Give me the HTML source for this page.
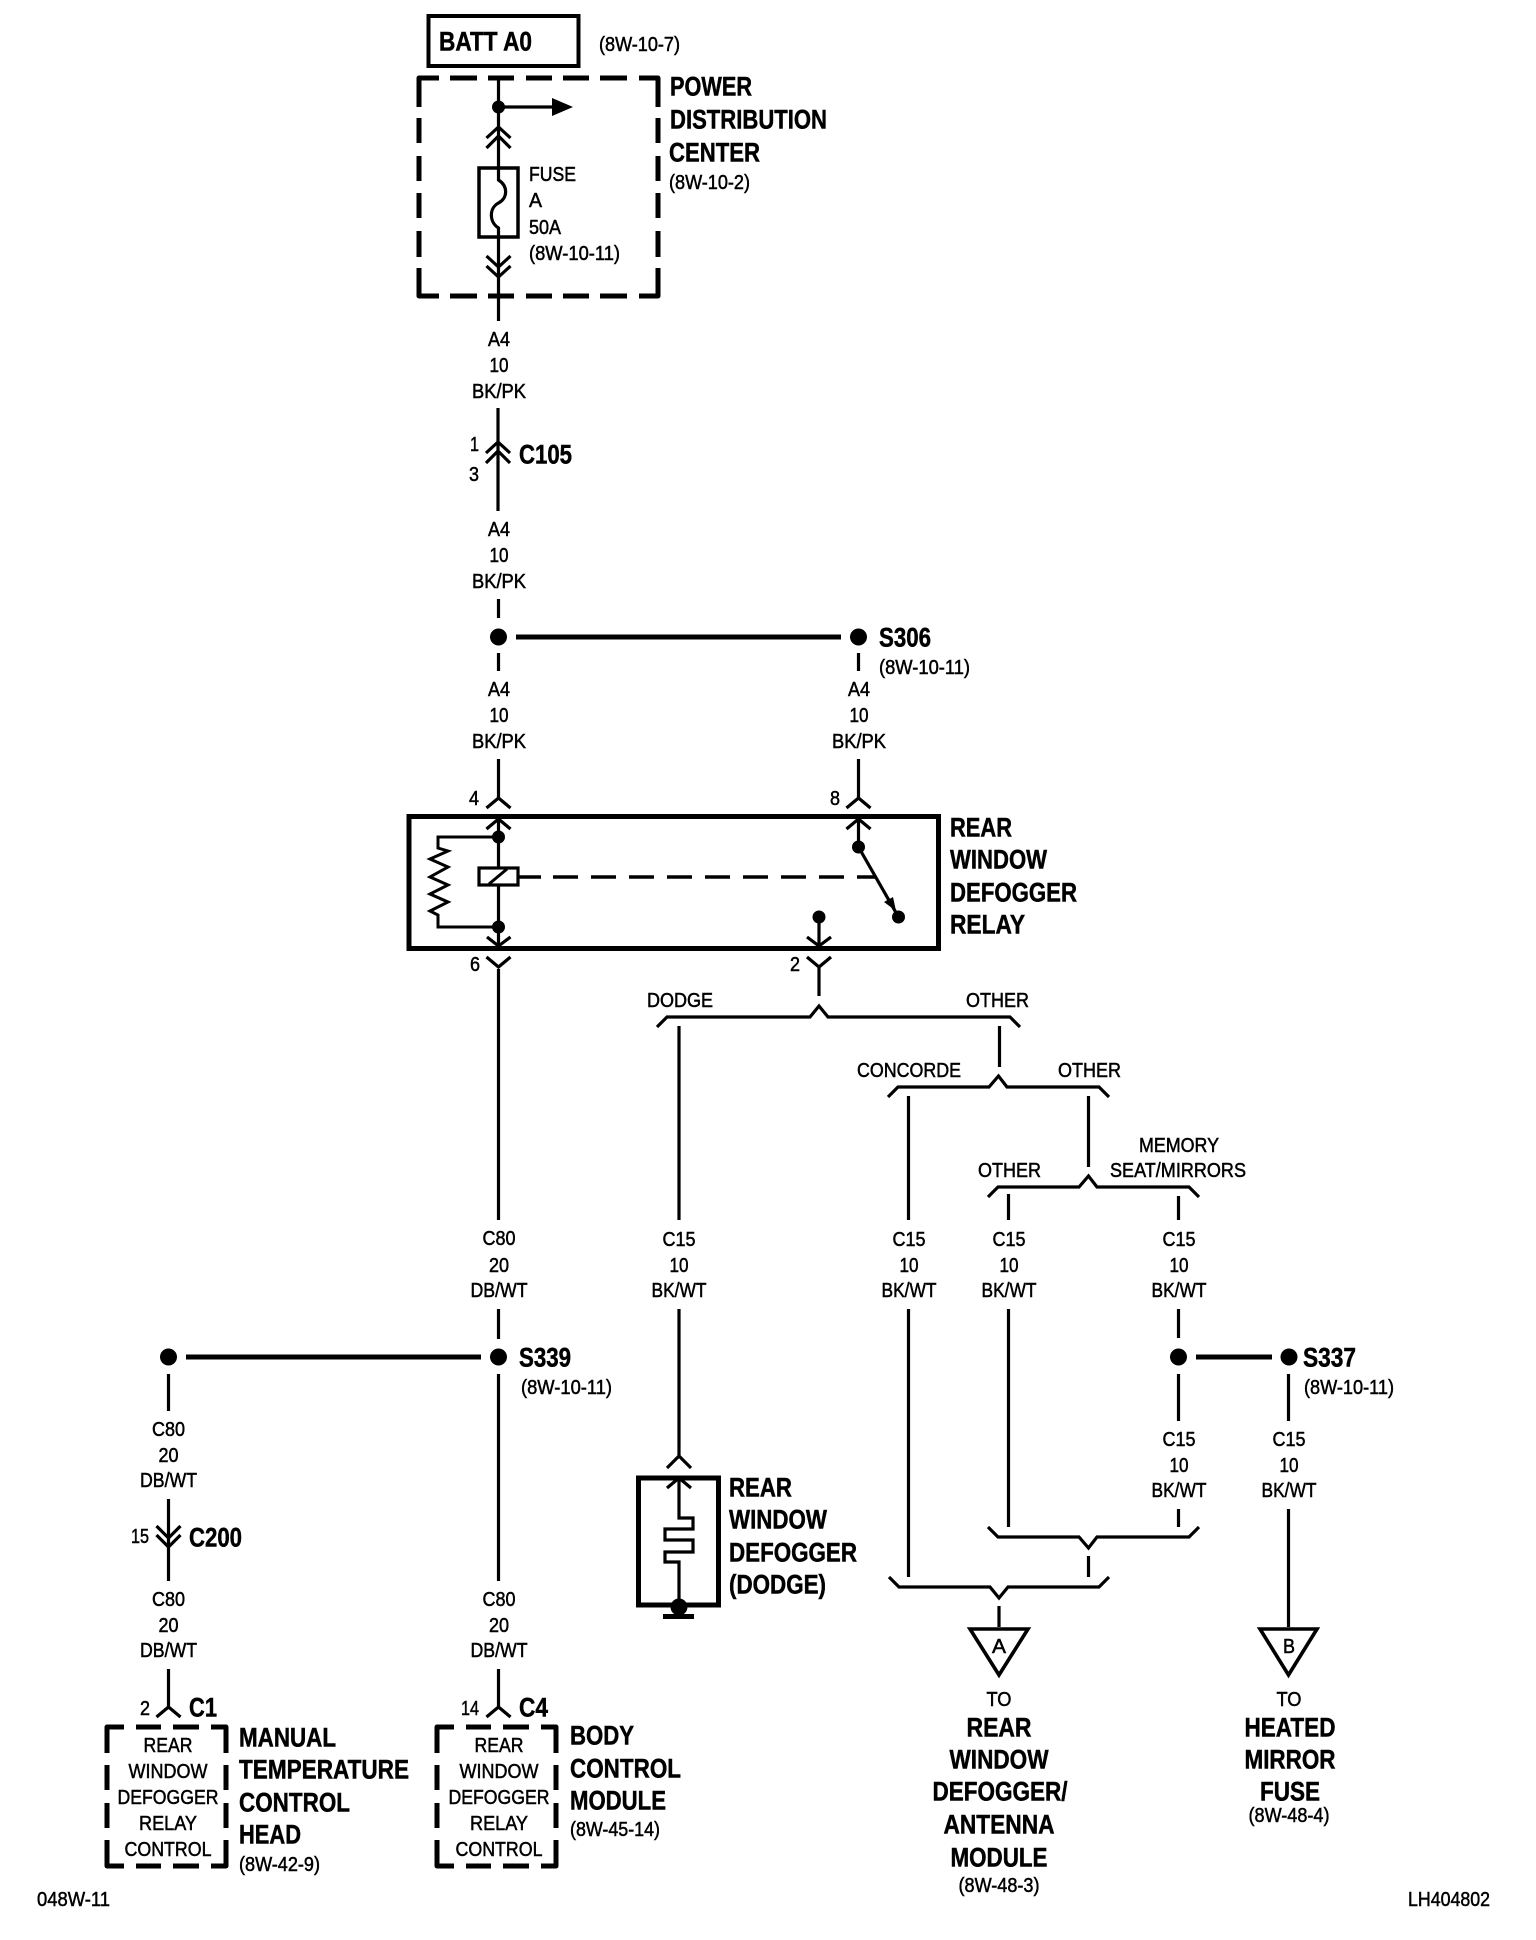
<!DOCTYPE html>
<html><head><meta charset="utf-8"><title>Rear window defogger wiring</title>
<style>
html,body{margin:0;padding:0;background:#fff}
svg{display:block}
text{font-family:"Liberation Sans",Arial,sans-serif;fill:#000}
.r{font-size:20px;stroke:#000;stroke-width:.5px;transform:translateY(-1px)}
.b{font-size:27px;font-weight:bold;stroke:#000;stroke-width:.5px;transform:translateY(-.5px)}
.m{text-anchor:middle}
.w{fill:none;stroke:#000;stroke-width:3.2}
.t{fill:none;stroke:#000;stroke-width:5}
.j{fill:none;stroke:#000;stroke-width:5;stroke-linejoin:round;stroke-linecap:butt}
</style></head><body>
<svg xmlns="http://www.w3.org/2000/svg" width="1536" height="1940" viewBox="0 0 1536 1940">
<rect width="1536" height="1940" fill="#fff"/>

<!-- BATT -->
<rect x="428.5" y="16" width="150" height="50" fill="none" stroke="#000" stroke-width="4"/>
<text class="b" x="439" y="51" textLength="93" lengthAdjust="spacingAndGlyphs">BATT A0</text>
<text class="r" x="599" y="52" textLength="81" lengthAdjust="spacingAndGlyphs">(8W-10-7)</text>

<!-- PDC dashed -->
<path class="j" d="M419 107V78H439M450 78H477M488 78H514M526 78H552M563 78H589M600 78H627M639 78H658V107M658 118V143M658 156V181M658 193V218M658 231V257M658 268V296H639M627 296H600M589 296H563M552 296H526M514 296H488M477 296H450M439 296H419V268M419 257V231M419 218V193M419 181V156M419 143V118"/>
<text class="b" x="670" y="96" textLength="82" lengthAdjust="spacingAndGlyphs">POWER</text>
<text class="b" x="670" y="129" textLength="157" lengthAdjust="spacingAndGlyphs">DISTRIBUTION</text>
<text class="b" x="669" y="162" textLength="91" lengthAdjust="spacingAndGlyphs">CENTER</text>
<text class="r" x="669" y="190" textLength="81" lengthAdjust="spacingAndGlyphs">(8W-10-2)</text>
<text class="r" x="529" y="182" textLength="47" lengthAdjust="spacingAndGlyphs">FUSE</text>
<text class="r" x="529" y="208" textLength="13" lengthAdjust="spacingAndGlyphs">A</text>
<text class="r" x="529" y="235" textLength="32" lengthAdjust="spacingAndGlyphs">50A</text>
<text class="r" x="529" y="261" textLength="91" lengthAdjust="spacingAndGlyphs">(8W-10-11)</text>

<path class="w" d="M498.5 77V167V180C508 186 508 198 498.5 203C489 208 489 222 498.5 228V321"/>
<circle cx="498.5" cy="107" r="6.5"/>
<path class="w" d="M498.5 107H553"/>
<polygon points="552,98 573,107 552,116"/>
<path class="w" d="M486.5 138L498.5 127L510.5 138M486.5 148L498.5 136L510.5 148"/>
<path class="w" d="M486.5 256L498.5 267L510.5 256M486.5 266L498.5 277L510.5 266"/>
<rect x="479" y="168" width="39" height="69" fill="none" stroke="#000" stroke-width="3.5"/>

<!-- Wire labels A4 -->
<text class="r m" x="499" y="347" textLength="22" lengthAdjust="spacingAndGlyphs">A4</text>
<text class="r m" x="499" y="373" textLength="19" lengthAdjust="spacingAndGlyphs">10</text>
<text class="r m" x="499" y="399" textLength="54" lengthAdjust="spacingAndGlyphs">BK/PK</text>
<path class="w" d="M498 408V511"/>
<path class="w" d="M486 453L498 442L510 453M486 463L498 451L510 463"/>
<text class="r" x="470" y="452" textLength="9" lengthAdjust="spacingAndGlyphs">1</text>
<text class="r" x="469" y="482" textLength="10" lengthAdjust="spacingAndGlyphs">3</text>
<text class="b" x="519" y="464" textLength="53" lengthAdjust="spacingAndGlyphs">C105</text>
<text class="r m" x="499" y="537" textLength="22" lengthAdjust="spacingAndGlyphs">A4</text>
<text class="r m" x="499" y="563" textLength="19" lengthAdjust="spacingAndGlyphs">10</text>
<text class="r m" x="499" y="589" textLength="54" lengthAdjust="spacingAndGlyphs">BK/PK</text>
<path class="w" d="M498.5 599V618M498.5 653V671M858.5 653V671"/>
<circle cx="498.5" cy="637" r="8.5"/>
<circle cx="858.5" cy="637" r="8.5"/>
<path class="t" d="M516 637H841"/>
<text class="b" x="879" y="647" textLength="52" lengthAdjust="spacingAndGlyphs">S306</text>
<text class="r" x="879" y="675" textLength="91" lengthAdjust="spacingAndGlyphs">(8W-10-11)</text>
<text class="r m" x="499" y="697" textLength="22" lengthAdjust="spacingAndGlyphs">A4</text>
<text class="r m" x="499" y="723" textLength="19" lengthAdjust="spacingAndGlyphs">10</text>
<text class="r m" x="499" y="749" textLength="54" lengthAdjust="spacingAndGlyphs">BK/PK</text>
<text class="r m" x="859" y="697" textLength="22" lengthAdjust="spacingAndGlyphs">A4</text>
<text class="r m" x="859" y="723" textLength="19" lengthAdjust="spacingAndGlyphs">10</text>
<text class="r m" x="859" y="749" textLength="54" lengthAdjust="spacingAndGlyphs">BK/PK</text>
<path class="w" d="M498.5 759V798M486.5 808L498.5 798L510.5 808M858.5 759V798M846.5 808L858.5 798L870.5 808"/>
<text class="r" x="469" y="806" textLength="10" lengthAdjust="spacingAndGlyphs">4</text>
<text class="r" x="830" y="806" textLength="10" lengthAdjust="spacingAndGlyphs">8</text>

<!-- Relay -->
<rect x="409" y="816.5" width="529.5" height="132" fill="none" stroke="#000" stroke-width="5"/>
<path class="w" d="M486.5 829L498.5 819L510.5 829M846.5 829L858.5 819L870.5 829M498.5 819V867M498.5 885V947M858.5 819V847"/>
<circle cx="498.5" cy="837" r="6.5"/><circle cx="498.5" cy="927" r="6.5"/>
<path fill="none" stroke="#000" stroke-width="3" d="M498.5 837H438V848L448 851L430 859L448 867L430 877L448 885L430 894L448 902L430 911L438 915V927H498.5"/>
<rect x="479" y="868" width="39" height="17" fill="none" stroke="#000" stroke-width="3.2"/>
<path fill="none" stroke="#000" stroke-width="3" d="M489 884L507 869"/>
<path fill="none" stroke="#000" stroke-width="3.4" d="M519 877H541M553 877H578M591 877H616M629 877H654M667 877H692M705 877H730M743 877H768M781 877H806M819 877H844M857 877H876"/>
<circle cx="858.5" cy="847" r="6.5"/>
<path class="w" d="M858.5 847L898.5 917"/>
<polygon points="884,902 893,897 896,911"/>
<circle cx="898.5" cy="917" r="6.5"/>
<circle cx="819" cy="917" r="6.5"/>
<path class="w" d="M819 917V947M807 937L819 946L831 937M487 937L498.5 946L510.5 937"/>
<text class="b" x="950" y="837" textLength="62" lengthAdjust="spacingAndGlyphs">REAR</text>
<text class="b" x="950" y="869" textLength="97" lengthAdjust="spacingAndGlyphs">WINDOW</text>
<text class="b" x="950" y="902" textLength="127" lengthAdjust="spacingAndGlyphs">DEFOGGER</text>
<text class="b" x="950" y="934" textLength="75" lengthAdjust="spacingAndGlyphs">RELAY</text>

<!-- below relay -->
<path class="w" d="M486.5 957L498.5 967L510.5 957M498.5 969V1220M807 957L819 967L831 957M819 967V996"/>
<text class="r" x="470" y="972" textLength="10" lengthAdjust="spacingAndGlyphs">6</text>
<text class="r" x="790" y="972" textLength="10" lengthAdjust="spacingAndGlyphs">2</text>
<text class="r" x="647" y="1008" textLength="66" lengthAdjust="spacingAndGlyphs">DODGE</text>
<text class="r" x="966" y="1008" textLength="63" lengthAdjust="spacingAndGlyphs">OTHER</text>
<path class="w" d="M657 1027L667 1017H810L819 1006L828 1017H1010L1020 1027"/>
<path class="w" d="M679 1026V1220M999.5 1026V1067"/>
<text class="r" x="857" y="1078" textLength="104" lengthAdjust="spacingAndGlyphs">CONCORDE</text>
<text class="r" x="1058" y="1078" textLength="63" lengthAdjust="spacingAndGlyphs">OTHER</text>
<path class="w" d="M888 1097L898 1087H989L998.5 1076L1007 1087H1099L1109 1097"/>
<path class="w" d="M908.5 1096V1220M1088.5 1096V1167"/>
<text class="r" x="978" y="1178" textLength="63" lengthAdjust="spacingAndGlyphs">OTHER</text>
<text class="r" x="1139" y="1153" textLength="80" lengthAdjust="spacingAndGlyphs">MEMORY</text>
<text class="r" x="1110" y="1178" textLength="136" lengthAdjust="spacingAndGlyphs">SEAT/MIRRORS</text>
<path class="w" d="M988 1197L998 1187H1079L1088.5 1176L1097 1187H1189L1199 1197"/>
<path class="w" d="M1008.5 1194V1220M1178.5 1196V1220"/>

<!-- C80 main -->
<text class="r m" x="499" y="1246" textLength="33" lengthAdjust="spacingAndGlyphs">C80</text>
<text class="r m" x="499" y="1273" textLength="20" lengthAdjust="spacingAndGlyphs">20</text>
<text class="r m" x="499" y="1298" textLength="57" lengthAdjust="spacingAndGlyphs">DB/WT</text>
<!-- C15 labels -->
<text class="r m" x="679" y="1247" textLength="33" lengthAdjust="spacingAndGlyphs">C15</text>
<text class="r m" x="679" y="1273" textLength="19" lengthAdjust="spacingAndGlyphs">10</text>
<text class="r m" x="679" y="1298" textLength="55" lengthAdjust="spacingAndGlyphs">BK/WT</text>
<text class="r m" x="909" y="1247" textLength="33" lengthAdjust="spacingAndGlyphs">C15</text>
<text class="r m" x="909" y="1273" textLength="19" lengthAdjust="spacingAndGlyphs">10</text>
<text class="r m" x="909" y="1298" textLength="55" lengthAdjust="spacingAndGlyphs">BK/WT</text>
<text class="r m" x="1009" y="1247" textLength="33" lengthAdjust="spacingAndGlyphs">C15</text>
<text class="r m" x="1009" y="1273" textLength="19" lengthAdjust="spacingAndGlyphs">10</text>
<text class="r m" x="1009" y="1298" textLength="55" lengthAdjust="spacingAndGlyphs">BK/WT</text>
<text class="r m" x="1179" y="1247" textLength="33" lengthAdjust="spacingAndGlyphs">C15</text>
<text class="r m" x="1179" y="1273" textLength="19" lengthAdjust="spacingAndGlyphs">10</text>
<text class="r m" x="1179" y="1298" textLength="55" lengthAdjust="spacingAndGlyphs">BK/WT</text>
<text class="r m" x="1179" y="1447" textLength="33" lengthAdjust="spacingAndGlyphs">C15</text>
<text class="r m" x="1179" y="1473" textLength="19" lengthAdjust="spacingAndGlyphs">10</text>
<text class="r m" x="1179" y="1498" textLength="55" lengthAdjust="spacingAndGlyphs">BK/WT</text>
<text class="r m" x="1289" y="1447" textLength="33" lengthAdjust="spacingAndGlyphs">C15</text>
<text class="r m" x="1289" y="1473" textLength="19" lengthAdjust="spacingAndGlyphs">10</text>
<text class="r m" x="1289" y="1498" textLength="55" lengthAdjust="spacingAndGlyphs">BK/WT</text>

<!-- S339 -->
<path class="w" d="M498.5 1309V1339M498.5 1374V1581M168.5 1374V1411M168.5 1499V1581"/>
<circle cx="498.5" cy="1357" r="8.5"/><circle cx="168.5" cy="1357" r="8.5"/>
<path class="t" d="M186 1357H481"/>
<text class="b" x="519" y="1367" textLength="52" lengthAdjust="spacingAndGlyphs">S339</text>
<text class="r" x="521" y="1395" textLength="91" lengthAdjust="spacingAndGlyphs">(8W-10-11)</text>
<text class="r m" x="168.5" y="1437" textLength="33" lengthAdjust="spacingAndGlyphs">C80</text>
<text class="r m" x="168.5" y="1463" textLength="20" lengthAdjust="spacingAndGlyphs">20</text>
<text class="r m" x="168.5" y="1488" textLength="57" lengthAdjust="spacingAndGlyphs">DB/WT</text>
<path class="w" d="M156.5 1526L168.5 1538L180.5 1526M156.5 1535L168.5 1547L180.5 1535"/>
<text class="r" x="131" y="1544" textLength="18" lengthAdjust="spacingAndGlyphs">15</text>
<text class="b" x="189" y="1547" textLength="53" lengthAdjust="spacingAndGlyphs">C200</text>
<text class="r m" x="168.5" y="1607" textLength="33" lengthAdjust="spacingAndGlyphs">C80</text>
<text class="r m" x="168.5" y="1633" textLength="20" lengthAdjust="spacingAndGlyphs">20</text>
<text class="r m" x="168.5" y="1658" textLength="57" lengthAdjust="spacingAndGlyphs">DB/WT</text>
<text class="r m" x="499" y="1607" textLength="33" lengthAdjust="spacingAndGlyphs">C80</text>
<text class="r m" x="499" y="1633" textLength="20" lengthAdjust="spacingAndGlyphs">20</text>
<text class="r m" x="499" y="1658" textLength="57" lengthAdjust="spacingAndGlyphs">DB/WT</text>
<path class="w" d="M168.5 1669V1707M156.5 1717L168.5 1707L180.5 1717M498.5 1669V1707M486.5 1717L498.5 1707L510.5 1717"/>
<text class="r" x="140" y="1716" textLength="10" lengthAdjust="spacingAndGlyphs">2</text>
<text class="b" x="189" y="1717" textLength="28" lengthAdjust="spacingAndGlyphs">C1</text>
<text class="r" x="461" y="1716" textLength="18" lengthAdjust="spacingAndGlyphs">14</text>
<text class="b" x="519" y="1717" textLength="29" lengthAdjust="spacingAndGlyphs">C4</text>

<!-- module boxes -->
<path class="j" d="M107 1753V1727H124M136 1727H161M173 1727H199M211 1727H226V1753M226 1765V1790M226 1803V1828M226 1840V1866H211M199 1866H173M161 1866H136M124 1866H107V1840M107 1828V1803M107 1790V1765"/>
<path class="j" transform="translate(330 0)" d="M107 1753V1727H124M136 1727H161M173 1727H199M211 1727H226V1753M226 1765V1790M226 1803V1828M226 1840V1866H211M199 1866H173M161 1866H136M124 1866H107V1840M107 1828V1803M107 1790V1765"/>
<text class="r m" x="168" y="1753" textLength="49" lengthAdjust="spacingAndGlyphs">REAR</text>
<text class="r m" x="168" y="1779" textLength="79" lengthAdjust="spacingAndGlyphs">WINDOW</text>
<text class="r m" x="168" y="1805" textLength="101" lengthAdjust="spacingAndGlyphs">DEFOGGER</text>
<text class="r m" x="168" y="1831" textLength="58" lengthAdjust="spacingAndGlyphs">RELAY</text>
<text class="r m" x="168" y="1857" textLength="87" lengthAdjust="spacingAndGlyphs">CONTROL</text>
<text class="r m" x="499" y="1753" textLength="49" lengthAdjust="spacingAndGlyphs">REAR</text>
<text class="r m" x="499" y="1779" textLength="79" lengthAdjust="spacingAndGlyphs">WINDOW</text>
<text class="r m" x="499" y="1805" textLength="101" lengthAdjust="spacingAndGlyphs">DEFOGGER</text>
<text class="r m" x="499" y="1831" textLength="58" lengthAdjust="spacingAndGlyphs">RELAY</text>
<text class="r m" x="499" y="1857" textLength="87" lengthAdjust="spacingAndGlyphs">CONTROL</text>
<text class="b" x="239" y="1747" textLength="97" lengthAdjust="spacingAndGlyphs">MANUAL</text>
<text class="b" x="239" y="1779" textLength="170" lengthAdjust="spacingAndGlyphs">TEMPERATURE</text>
<text class="b" x="239" y="1812" textLength="111" lengthAdjust="spacingAndGlyphs">CONTROL</text>
<text class="b" x="239" y="1844" textLength="62" lengthAdjust="spacingAndGlyphs">HEAD</text>
<text class="r" x="239" y="1872" textLength="81" lengthAdjust="spacingAndGlyphs">(8W-42-9)</text>
<text class="b" x="570" y="1745" textLength="64" lengthAdjust="spacingAndGlyphs">BODY</text>
<text class="b" x="570" y="1778" textLength="111" lengthAdjust="spacingAndGlyphs">CONTROL</text>
<text class="b" x="570" y="1810" textLength="96" lengthAdjust="spacingAndGlyphs">MODULE</text>
<text class="r" x="570" y="1837" textLength="90" lengthAdjust="spacingAndGlyphs">(8W-45-14)</text>

<!-- Dodge defogger -->
<path class="w" d="M679 1309V1456M667 1468L679 1456L691 1468"/>
<rect x="638.5" y="1478" width="80" height="127" fill="none" stroke="#000" stroke-width="5"/>
<path class="w" d="M667 1488L679 1478L691 1488"/>
<path class="w" d="M679 1478V1518H693V1529H665V1540H693V1552H665V1562H679V1607"/>
<circle cx="679" cy="1607" r="8.5"/>
<rect x="663" y="1614" width="31" height="5"/>
<text class="b" x="729" y="1497" textLength="63" lengthAdjust="spacingAndGlyphs">REAR</text>
<text class="b" x="729" y="1529" textLength="98" lengthAdjust="spacingAndGlyphs">WINDOW</text>
<text class="b" x="729" y="1562" textLength="128" lengthAdjust="spacingAndGlyphs">DEFOGGER</text>
<text class="b" x="729" y="1594" textLength="97" lengthAdjust="spacingAndGlyphs">(DODGE)</text>

<!-- Right side -->
<path class="w" d="M908.5 1309V1577M1008.5 1309V1527M1178.5 1309V1338M1178.5 1374V1421M1178.5 1509V1527M1288.5 1374V1421M1288.5 1509V1627"/>
<circle cx="1178.5" cy="1357" r="8.5"/><circle cx="1289" cy="1357" r="8.5"/>
<path class="t" d="M1196 1357H1272"/>
<text class="b" x="1303" y="1367" textLength="53" lengthAdjust="spacingAndGlyphs">S337</text>
<text class="r" x="1304" y="1395" textLength="90" lengthAdjust="spacingAndGlyphs">(8W-10-11)</text>
<path class="w" d="M988 1527L998 1537H1079L1088.5 1548L1097 1537H1189L1199 1527"/>
<path class="w" d="M1088.5 1556V1577"/>
<path class="w" d="M889 1577L899 1587H990L999 1598L1008 1587H1099L1109 1577"/>
<path class="w" d="M999 1606V1627"/>
<polygon points="970,1629 1028,1629 999,1675" fill="none" stroke="#000" stroke-width="3.6"/>
<polygon points="1260,1629 1317,1629 1288.5,1675" fill="none" stroke="#000" stroke-width="3.6"/>
<text class="r m" x="999" y="1654" textLength="14" lengthAdjust="spacingAndGlyphs">A</text>
<text class="r m" x="1289" y="1654" textLength="12" lengthAdjust="spacingAndGlyphs">B</text>
<text class="r m" x="999" y="1707" textLength="25" lengthAdjust="spacingAndGlyphs">TO</text>
<text class="r m" x="1289" y="1707" textLength="25" lengthAdjust="spacingAndGlyphs">TO</text>
<text class="b m" x="999" y="1737" textLength="65" lengthAdjust="spacingAndGlyphs">REAR</text>
<text class="b m" x="999" y="1769" textLength="99" lengthAdjust="spacingAndGlyphs">WINDOW</text>
<text class="b m" x="1000" y="1801" textLength="135" lengthAdjust="spacingAndGlyphs">DEFOGGER/</text>
<text class="b m" x="999" y="1834" textLength="111" lengthAdjust="spacingAndGlyphs">ANTENNA</text>
<text class="b m" x="999" y="1867" textLength="97" lengthAdjust="spacingAndGlyphs">MODULE</text>
<text class="r m" x="999" y="1893" textLength="81" lengthAdjust="spacingAndGlyphs">(8W-48-3)</text>
<text class="b m" x="1290" y="1737" textLength="91" lengthAdjust="spacingAndGlyphs">HEATED</text>
<text class="b m" x="1290" y="1769" textLength="91" lengthAdjust="spacingAndGlyphs">MIRROR</text>
<text class="b m" x="1290" y="1801" textLength="60" lengthAdjust="spacingAndGlyphs">FUSE</text>
<text class="r m" x="1289" y="1823" textLength="81" lengthAdjust="spacingAndGlyphs">(8W-48-4)</text>
<text class="r" x="37" y="1907" textLength="73" lengthAdjust="spacingAndGlyphs">048W-11</text>
<text class="r" x="1408" y="1907" textLength="82" lengthAdjust="spacingAndGlyphs">LH404802</text>
</svg>
</body></html>
